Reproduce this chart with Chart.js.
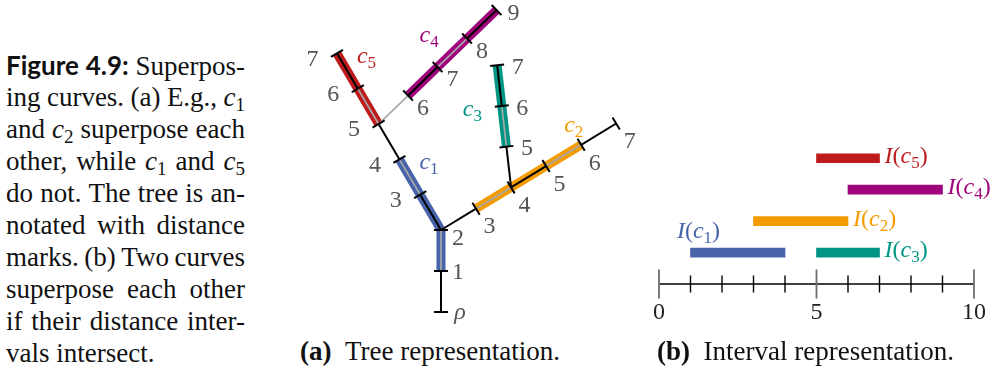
<!DOCTYPE html>
<html lang="en">
<head>
<meta charset="utf-8">
<title>Superposing curves</title>
<script src="https://cdn.jsdelivr.net/npm/chart.js@4.4.1/dist/chart.umd.min.js"></script>
<style>
  html, body { margin: 0; padding: 0; background: #fff; }
  body { width: 993px; height: 372px; position: relative; overflow: hidden;
         font-family: "Liberation Serif", serif; color: #111; }
  #caption { position: absolute; left: 6px; top: 49px; width: 239px;
             font-size: 27px; line-height: 32px; }
  #caption .ln { display: flex; justify-content: space-between; align-items: baseline;
                 white-space: nowrap; height: 32px; }
  #caption .last { white-space: nowrap; height: 32px; }
  .fig { font-family: Lato, sans-serif; font-weight: 700; font-size: 26px; }
  sub { font-size: 19px; vertical-align: -5px; line-height: 0; }
  .sub-cap { position: absolute; top: 335px; font-size: 27px; line-height: 32px; white-space: nowrap; }
  canvas { position: absolute; }
</style>
</head>
<body>

<div id="caption">
  <div class="ln"><span class="fig">Figure</span><span class="fig">4.9:</span><span>Superpos-</span></div>
  <div class="ln"><span>ing</span><span>curves.</span><span>(a)</span><span>E.g.,</span><span><i>c</i><sub>1</sub></span></div>
  <div class="ln"><span>and</span><span><i>c</i><sub>2</sub></span><span>superpose</span><span>each</span></div>
  <div class="ln"><span>other,</span><span>while</span><span><i>c</i><sub>1</sub></span><span>and</span><span><i>c</i><sub>5</sub></span></div>
  <div class="ln"><span>do</span><span>not.</span><span>The</span><span>tree</span><span>is</span><span>an-</span></div>
  <div class="ln"><span>notated</span><span>with</span><span>distance</span></div>
  <div class="ln"><span>marks.</span><span>(b)</span><span>Two</span><span>curves</span></div>
  <div class="ln"><span>superpose</span><span>each</span><span>other</span></div>
  <div class="ln"><span>if</span><span>their</span><span>distance</span><span>inter-</span></div>
  <div class="last">vals intersect.</div>
</div>

<canvas id="tree" width="360" height="335" style="left:290px;top:0px;"></canvas>
<canvas id="intervals" width="363" height="197" style="left:630px;top:130px;"></canvas>

<div class="sub-cap" style="left:300px;"><b>(a)</b>&ensp;Tree representation.</div>
<div class="sub-cap" style="left:657px;"><b>(b)</b>&ensp;Interval representation.</div>

<script>
// ---------- tree: branches measured in distance from the root ρ ----------
const branchNames  = ['trunk', 'left', 'upper', 'right', 'middle'];
const branchParent = [-1, 0, 1, 0, 3];   // index of the branch each one grows from
const branchFrom   = [0, 2, 5, 2, 4];    // distance where the branch starts
const branchTo     = [2, 7, 9, 7, 7];    // distance where the branch ends

// ---------- curves and their distance intervals ----------
const curveNames  = ['c1', 'c2', 'c3', 'c4', 'c5'];
const curveStart  = [1, 3, 5, 6, 5];
const curveEnd    = [4, 6, 7, 9, 7];
const curveBranch = [1, 3, 4, 2, 1];     // branch on which each curve ends
const intervalRow = [1, 2, 1, 3, 4];     // row of each interval in panel (b)

// ---------- interval axis ----------
const axisTicks  = [0, 1, 2, 3, 4, 5, 6, 7, 8, 9, 10];
const axisLabels = [0, 5, 10];

// ---------- drawing style ----------
const CURVE_COLORS = ['#4764ab', '#f39c00', '#009683', '#a0047c', '#be1c1c'];
const BRANCH_ANGLE = [90, 120.5, 44, 31.3, 96.5];   // drawing direction of each branch, degrees
const UNIT_PX = 41;                                  // pixels per unit of distance
const ROOT_PX = { x: 151, y: 312 };                  // root position inside the tree canvas
const TREE_W = 360, TREE_H = 335;
const MARK_GRAY = '#a8a8a8';
const NUM_COLOR = '#555';
const SERIF = '"Liberation Serif", serif';

const MARK_LABEL_OFFSET  = [[17, 2], [-24.5, 6], [15, 13], [13.5, 18.5], [20.5, 2.5]];
const MARK_LABEL_SPECIAL = { '0:0': [19, 1], '0:2': [17, 9], '2:9': [17, 4] };
const CURVE_LABEL_ANCHOR = [
  { d: 4, dx: 20,  dy: 10 },
  { d: 6, dx: -17, dy: -13 },
  { d: 6, dx: -39, dy: 10 },
  { d: 7, dx: -18, dy: -25 },
  { d: 7, dx: 20,  dy: 9.5 }
];
const INTERVAL_LABEL_PLACE = ['above', 'right', 'right', 'right', 'right'];

// ---------- geometry helpers (tree units, y pointing up) ----------
function nodeAt(b, d) {
  const from = branchFrom[b];
  const o = branchParent[b] < 0 ? { x: 0, y: 0 } : nodeAt(branchParent[b], from);
  const a = BRANCH_ANGLE[b] * Math.PI / 180;
  return { x: o.x + (d - from) * Math.cos(a), y: o.y + (d - from) * Math.sin(a) };
}
function pathTo(b) {
  const p = [];
  while (b >= 0) { p.unshift(b); b = branchParent[b]; }
  return p;
}
function pointOnPath(path, d) {
  for (let i = path.length - 1; i >= 0; i--) {
    if (d >= branchFrom[path[i]]) return nodeAt(path[i], d);
  }
  return nodeAt(path[0], d);
}
function curvePoints(i) {
  const path = pathTo(curveBranch[i]);
  const pts = [];
  for (let d = curveStart[i]; d <= curveEnd[i]; d++) pts.push(pointOnPath(path, d));
  return pts;
}

// distance marks: every integer distance along every branch
const marks = [];
branchNames.forEach((_, b) => {
  const first = branchParent[b] < 0 ? branchFrom[b] : branchFrom[b] + 1;
  for (let d = first; d <= branchTo[b]; d++) marks.push(Object.assign(nodeAt(b, d), { d, b }));
});

// ---------- math-style text helper ----------
function drawMath(ctx, parts, x, y, color, align) {
  const fonts = {
    it:  'italic 24px ' + SERIF,
    rm:  '24px ' + SERIF,
    sub: '17px ' + SERIF
  };
  let total = 0;
  const widths = parts.map(p => { ctx.font = fonts[p.f]; const w = ctx.measureText(p.t).width; total += w; return w; });
  let cx = align === 'center' ? x - total / 2 : x;
  ctx.fillStyle = color;
  ctx.textAlign = 'left';
  ctx.textBaseline = 'alphabetic';
  parts.forEach((p, k) => {
    ctx.font = fonts[p.f];
    ctx.fillText(p.t, cx, p.f === 'sub' ? y + 5 : y);
    cx += widths[k];
  });
}
function curveParts(name) {
  return [{ t: 'c', f: 'it' }, { t: name.slice(1), f: 'sub' }];
}

// ---------- panel (a): tree ----------
const treeLabels = {
  id: 'treeLabels',
  afterDatasetsDraw(chart) {
    const { ctx, scales: { x, y } } = chart;
    ctx.save();
    marks.forEach(m => {
      const off = MARK_LABEL_SPECIAL[m.b + ':' + m.d] || MARK_LABEL_OFFSET[m.b];
      const px = x.getPixelForValue(m.x) + off[0];
      const py = y.getPixelForValue(m.y) + off[1];
      ctx.fillStyle = NUM_COLOR;
      ctx.textAlign = 'center';
      ctx.textBaseline = 'middle';
      ctx.font = (m.d === 0 ? 'italic ' : '') + '24px ' + SERIF;
      ctx.fillText(m.d === 0 ? 'ρ' : String(m.d), px, py);
    });
    curveNames.forEach((name, i) => {
      const a = CURVE_LABEL_ANCHOR[i];
      const p = pointOnPath(pathTo(curveBranch[i]), a.d);
      drawMath(ctx, curveParts(name), x.getPixelForValue(p.x) + a.dx,
               y.getPixelForValue(p.y) + a.dy, CURVE_COLORS[i], 'left');
    });
    ctx.restore();
  }
};

const treeDatasets = [];
curveNames.forEach((name, i) => {
  treeDatasets.push({
    label: name,
    data: curvePoints(i),
    borderColor: CURVE_COLORS[i],
    borderWidth: 9,
    borderCapStyle: 'butt',
    borderJoinStyle: 'miter',
    pointRadius: 0,
    tension: 0,
    clip: false,
    order: 3
  });
});
branchNames.forEach((name, b) => {
  const pts = [];
  for (let d = branchFrom[b]; d <= branchTo[b]; d++) pts.push(nodeAt(b, d));
  treeDatasets.push({
    label: name,
    data: pts,
    borderColor: '#000',
    borderWidth: 2,
    borderCapStyle: 'butt',
    pointRadius: 0,
    tension: 0,
    clip: false,
    order: 2,
    segment: {
      borderColor: ctx => ((branchFrom[b] + ctx.p0DataIndex) % 2 === 0 ? '#000' : MARK_GRAY),
      borderWidth: ctx => ((branchFrom[b] + ctx.p0DataIndex) % 2 === 0 ? 2 : 1.7)
    }
  });
});
treeDatasets.push({
  label: 'marks',
  data: marks,
  showLine: false,
  pointStyle: 'line',
  pointRadius: 7,
  pointBorderWidth: 2,
  pointBorderColor: '#000',
  pointRotation: marks.map(m => -(BRANCH_ANGLE[m.b] + 90)),
  clip: false,
  order: 1
});

const xMin = -ROOT_PX.x / UNIT_PX;
const yMax = ROOT_PX.y / UNIT_PX;
new Chart(document.getElementById('tree'), {
  type: 'line',
  data: { datasets: treeDatasets },
  options: {
    responsive: false,
    animation: false,
    devicePixelRatio: 1,
    events: [],
    layout: { autoPadding: false, padding: 0 },
    plugins: { legend: { display: false }, tooltip: { enabled: false } },
    scales: {
      x: { type: 'linear', display: false, min: xMin, max: xMin + TREE_W / UNIT_PX },
      y: { type: 'linear', display: false, min: yMax - TREE_H / UNIT_PX, max: yMax }
    }
  },
  plugins: [treeLabels]
});

// ---------- panel (b): intervals ----------
const intervalLabels = {
  id: 'intervalLabels',
  afterDatasetsDraw(chart) {
    const { ctx, scales: { x, y } } = chart;
    ctx.save();
    curveNames.forEach((name, i) => {
      const parts = [{ t: 'I', f: 'it' }, { t: '(', f: 'rm' }].concat(curveParts(name), [{ t: ')', f: 'rm' }]);
      const rowY = y.getPixelForValue(intervalRow[i]);
      if (INTERVAL_LABEL_PLACE[i] === 'above') {
        drawMath(ctx, parts, x.getPixelForValue(curveStart[i]) + 8, rowY - 15, CURVE_COLORS[i], 'center');
      } else {
        drawMath(ctx, parts, x.getPixelForValue(curveEnd[i]) + 5, rowY + 4.5, CURVE_COLORS[i], 'left');
      }
    });
    ctx.restore();
  }
};

const AXIS_BAND = 43;   // height reserved under the number line for its labels

new Chart(document.getElementById('intervals'), {
  type: 'bar',
  data: {
    datasets: [
      {
        type: 'bar',
        indexAxis: 'y',
        label: 'intervals',
        data: curveNames.map((n, i) => ({ y: intervalRow[i], x: [curveStart[i], curveEnd[i]] })),
        backgroundColor: CURVE_COLORS,
        borderWidth: 0,
        barThickness: 9,
        order: 3
      },
      {
        type: 'line',
        label: 'axis',
        data: [{ x: axisTicks[0], y: 0 }, { x: axisTicks[axisTicks.length - 1], y: 0 }],
        borderColor: '#000',
        borderWidth: 1.4,
        pointRadius: 0,
        clip: false,
        order: 2
      },
      {
        type: 'line',
        label: 'ticks',
        data: axisTicks.map(t => ({ x: t, y: 0 })),
        showLine: false,
        pointStyle: 'line',
        pointRotation: 90,
        pointRadius: axisTicks.map(t => (axisLabels.includes(t) ? 14.5 : 8.5)),
        pointBorderWidth: axisTicks.map(t => (axisLabels.includes(t) ? 1.8 : 1.4)),
        pointBorderColor: axisTicks.map(t => (axisLabels.includes(t) ? '#6e6e6e' : '#000')),
        clip: false,
        order: 1
      }
    ]
  },
  options: {
    responsive: false,
    animation: false,
    devicePixelRatio: 1,
    events: [],
    layout: { autoPadding: false, padding: { left: 29, right: 19, top: 12.5, bottom: 0 } },
    plugins: { legend: { display: false }, tooltip: { enabled: false } },
    scales: {
      x: {
        type: 'linear', min: 0, max: 10, offset: false,
        grid: { display: false, drawTicks: false },
        border: { display: false },
        ticks: {
          stepSize: 1, autoSkip: false, maxRotation: 0, padding: 14,
          color: '#222', font: { family: 'Liberation Serif', size: 24 },
          callback: v => (axisLabels.includes(v) ? String(v) : '')
        },
        afterFit: scale => {
          scale.height = AXIS_BAND;
          scale.paddingLeft = 0;
          scale.paddingRight = 0;
        }
      },
      y: { type: 'linear', min: 0, max: 4.5, display: false, offset: false }
    }
  },
  plugins: [intervalLabels]
});
</script>
</body>
</html>
